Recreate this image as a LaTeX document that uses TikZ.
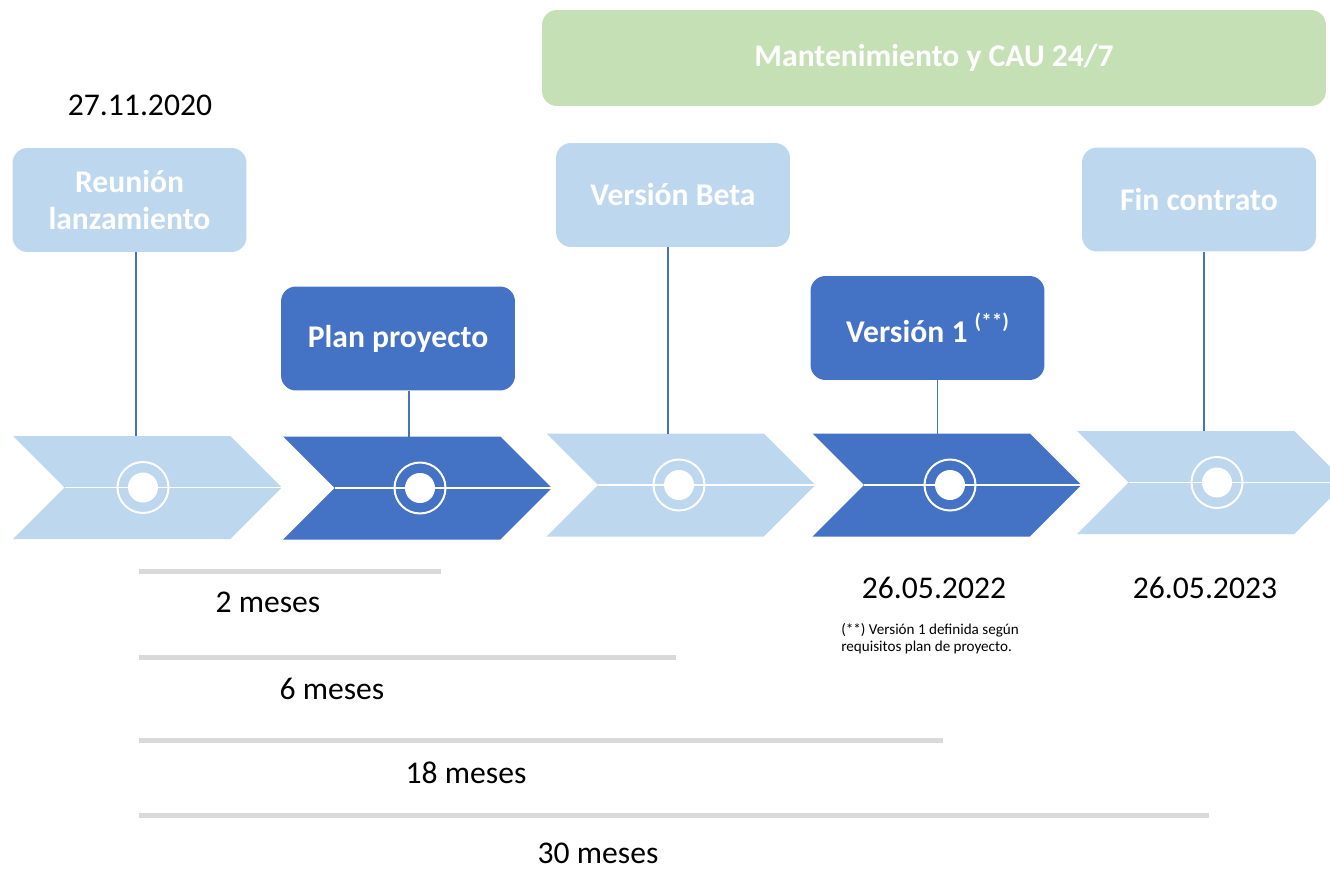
\documentclass[tikz,border=0pt]{standalone}
\usepackage{fontspec}
\setmainfont{Carlito}
\usepackage{tikz}
\usetikzlibrary{shapes.symbols}
\definecolor{light-blue}{HTML}{BDD7EE}
\definecolor{dark-blue}{HTML}{4472C4}
\definecolor{soft-green}{HTML}{C5E0B4}
\definecolor{bar-gray}{HTML}{D9D9D9}
\tikzset{
    step-box/.style = {rectangle, rounded corners=0.3cm, minimum width=4.68cm, minimum height=2.08cm, inner sep=0pt, text=white, align=center, font=\fontsize{18}{21}\selectfont\bfseries},
    light-box/.style = {step-box, fill=light-blue},
    dark-box/.style = {step-box, fill=dark-blue},
    chevron/.style = {signal, signal from=west, signal to=east, signal pointer angle=90, minimum width=5.38cm, minimum height=2.06cm, inner sep=0pt, outer sep=0pt},
    ring/.style = {circle, draw=white, line width=0.04cm, minimum size=1.02cm, inner sep=0pt},
    dot/.style = {circle, fill=white, minimum size=0.6cm, inner sep=0pt},
    stem/.style = {draw=dark-blue, line width=0.6pt},
    date-label/.style = {font=\fontsize{18}{21}\selectfont},
    span-bar/.style = {draw=bar-gray, line width=0.1cm},
}

\begin{document}
\begin{tikzpicture}[x=0.02cm, y=-0.02cm]
\useasboundingbox (0,0) rectangle (1330,870);
\node[step-box, fill=soft-green, minimum width=15.68cm, minimum height=1.92cm] (mant) at (934,58) {Mantenimiento y CAU 24/7};
\node[date-label] (fecha-inicio) at (140,105) {27.11.2020};

\node[chevron, fill=light-blue] (ch1) at (147.5,487.5) {};
\node[chevron, fill=dark-blue] (ch2) at (417.5,488) {};
\node[chevron, fill=light-blue] (ch3) at (681,485) {};
\node[chevron, fill=dark-blue] (ch4) at (947,485) {};
\node[chevron, fill=light-blue] (ch5) at (1211.5,482.5) {};
\foreach \c/\x in {ch1/143, ch2/420, ch3/679, ch4/950, ch5/1217} {
    \draw[white, line width=0.6pt] (\c.west) -- (\c.east);
    \node[ring] at (\x,0 |- \c.center) {};
    \node[dot] at (\x,0 |- \c.center) {};
}

\node[light-box] (reunion) at (129.5,200) {Reunión\\lanzamiento};
\node[dark-box] (plan) at (398,338.5) {Plan proyecto};
\node[light-box] (beta) at (673,195) {Versión Beta};
\node[dark-box] (v1) at (927.5,328) {Versión 1 \raisebox{0.45em}{\fontsize{12}{12}\selectfont(**)}};
\node[light-box] (fin) at (1199,199.5) {Fin contrato};

\draw[stem] ([xshift=0.13cm]reunion.south) -- ([xshift=0.13cm]reunion.south |- ch1.north);
\draw[stem] ([xshift=0.22cm]plan.south) -- ([xshift=0.22cm]plan.south |- ch2.north);
\draw[stem] ([xshift=-0.1cm]beta.south) -- ([xshift=-0.1cm]beta.south |- ch3.north);
\draw[stem] ([xshift=0.2cm]v1.south) -- ([xshift=0.2cm]v1.south |- ch4.north);
\draw[stem] ([xshift=0.1cm]fin.south) -- ([xshift=0.1cm]fin.south |- ch5.north);

\node[date-label] (fecha-v1) at (934,588) {26.05.2022};
\node[date-label] (fecha-fin) at (1205,588) {26.05.2023};
\node[anchor=north west, align=left, inner sep=0pt, font=\fontsize{8.6}{9.8}\selectfont] (nota) at (841,623) {(**) Versión 1 definida según\\requisitos plan de proyecto.};

\draw[span-bar] (139,571) -- (441,571);
\node[date-label] (m2) at (268,602) {2 meses};
\draw[span-bar] (139,657) -- (676,657);
\node[date-label] (m6) at (332,689) {6 meses};
\draw[span-bar] (139,740) -- (943,740);
\node[date-label] (m18) at (466,773) {18 meses};
\draw[span-bar] (139,815) -- (1209,815);
\node[date-label] (m30) at (598,853) {30 meses};
\end{tikzpicture}
\end{document}
